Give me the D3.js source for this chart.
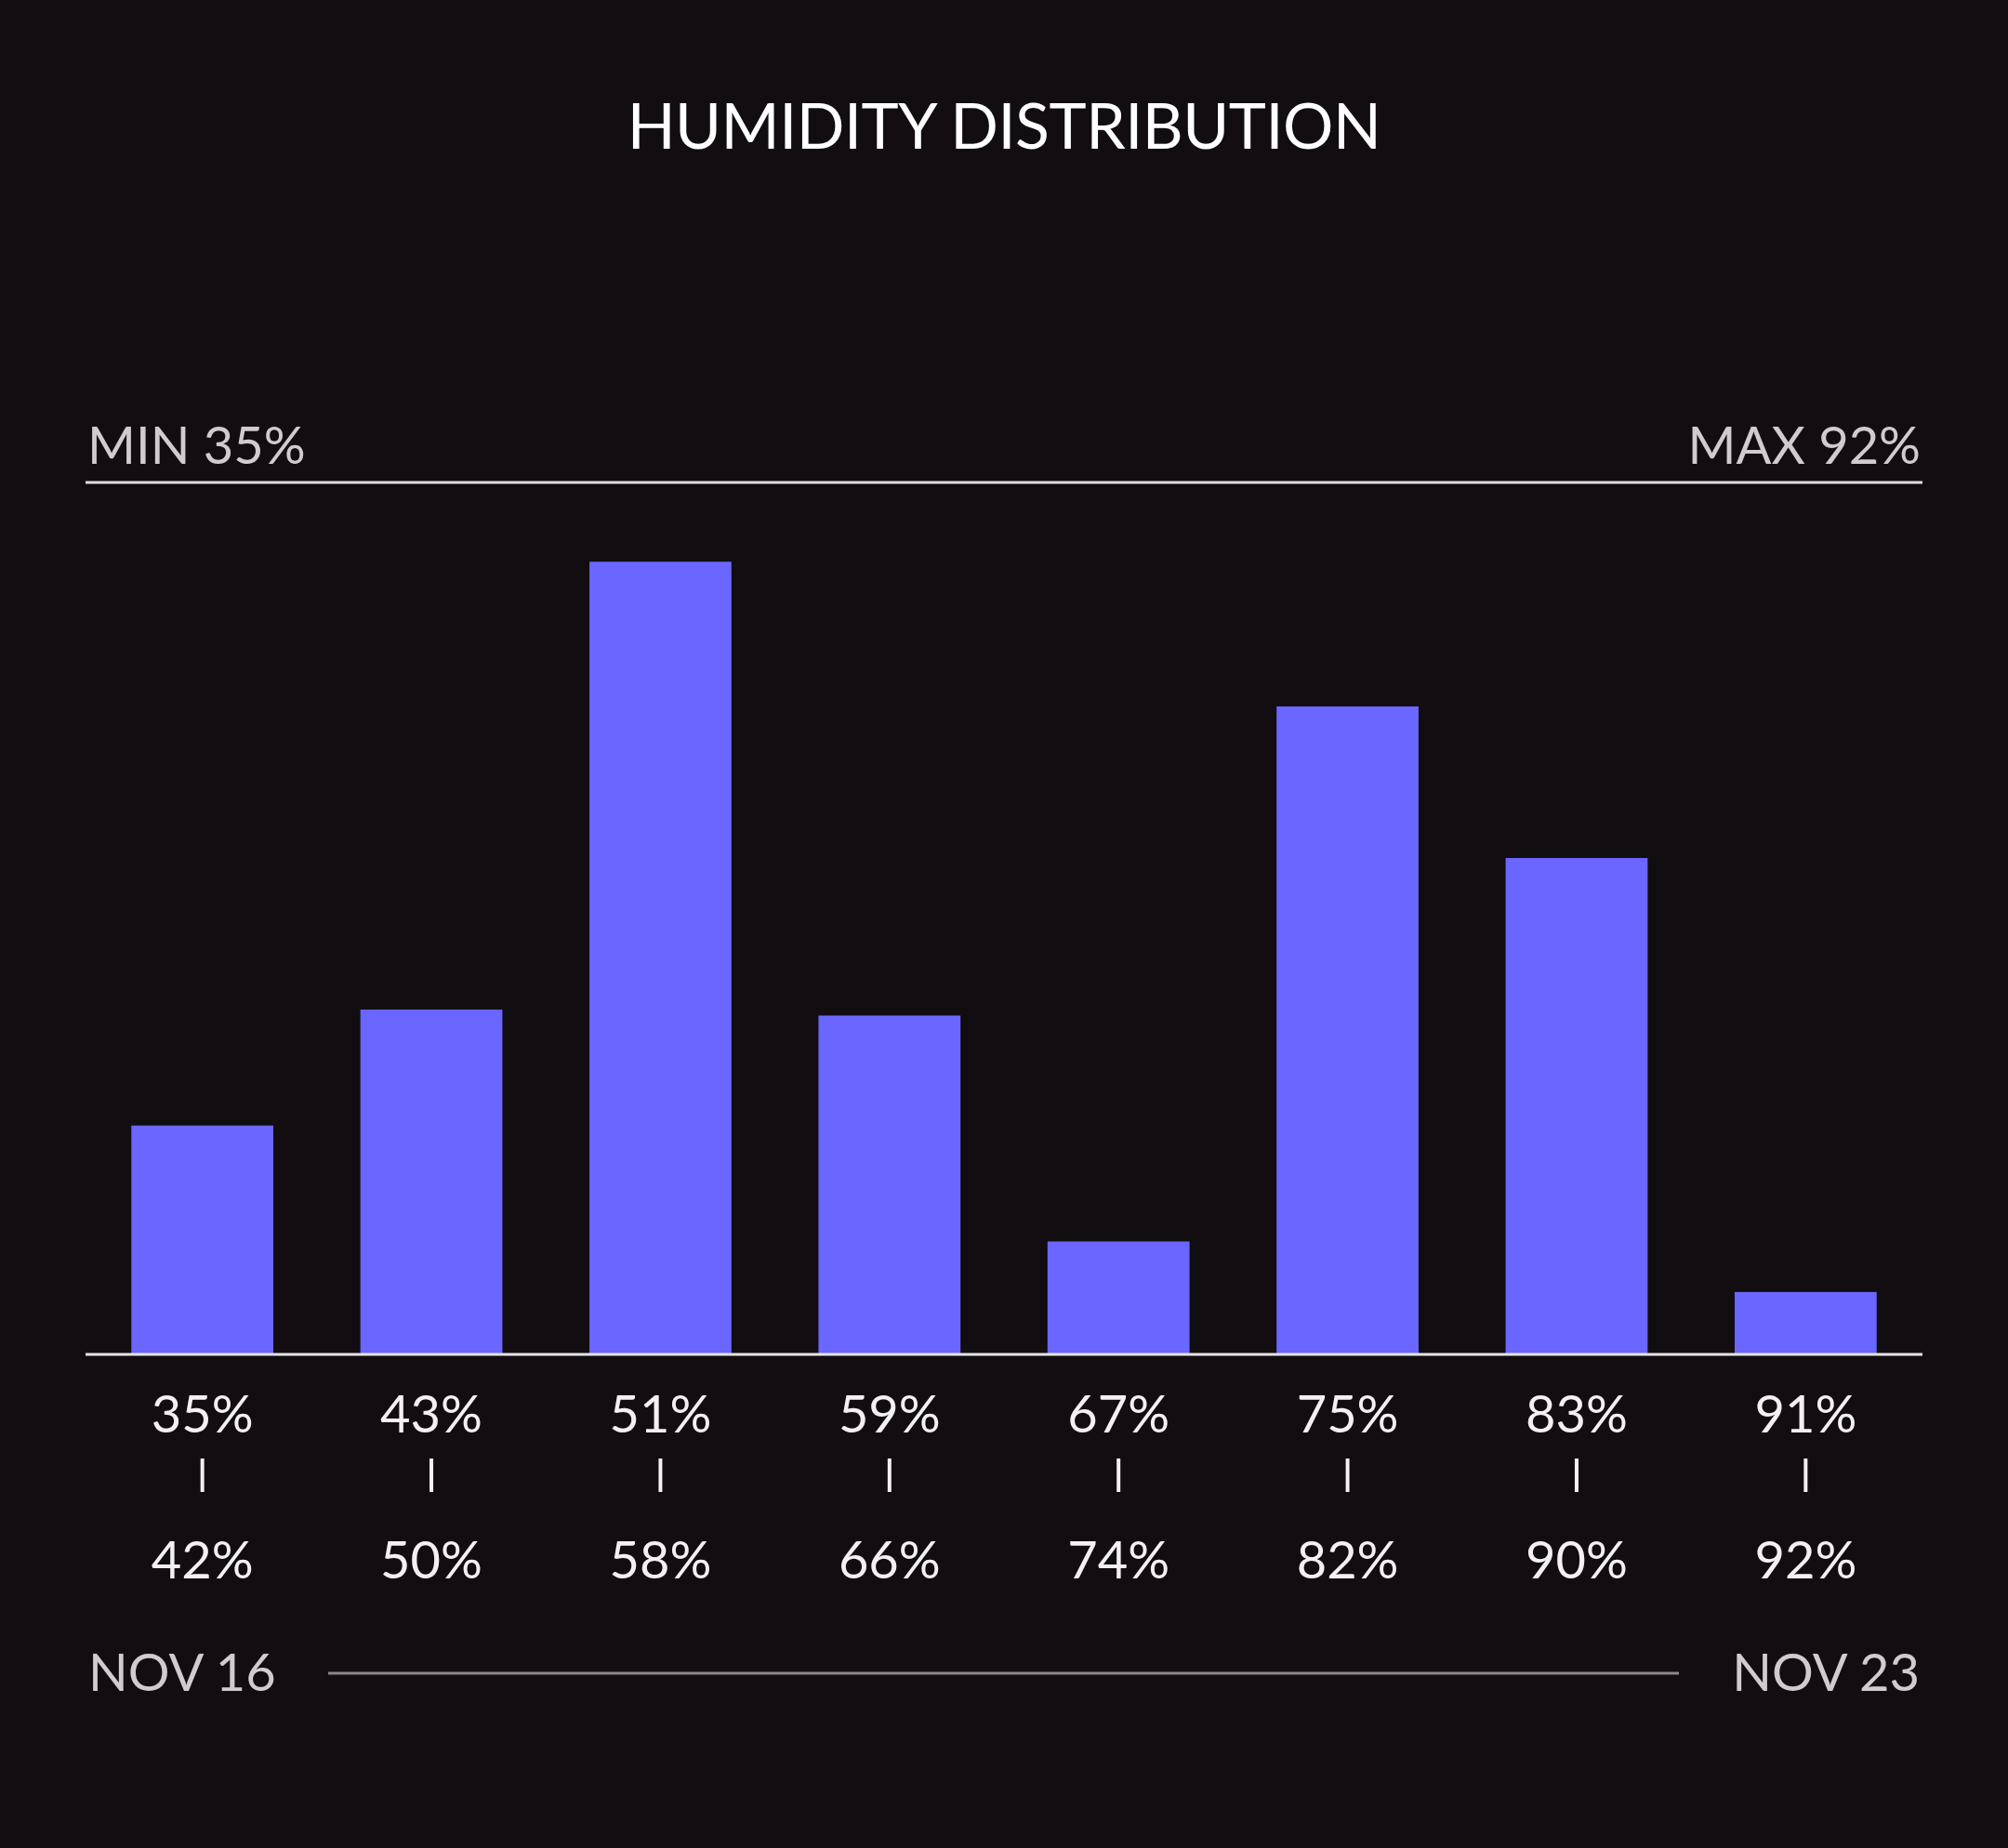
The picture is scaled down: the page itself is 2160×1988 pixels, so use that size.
<!DOCTYPE html>
<html>
<head>
<meta charset="utf-8">
<script src="https://cdn.jsdelivr.net/npm/d3@7"></script>
<style>
  html, body { margin: 0; padding: 0; background: #110d10; }
  svg { display: block; }
  text { font-family: Lato, "Noto Sans", sans-serif; }
</style>
</head>
<body>
<svg id="chart" width="2160" height="1988"></svg>
<script>
// ---- data ----
const title = "HUMIDITY DISTRIBUTION";
const binStarts = ["35%", "43%", "51%", "59%", "67%", "75%", "83%", "91%"];
const binEnds   = ["42%", "50%", "58%", "66%", "74%", "82%", "90%", "92%"];
const counts    = [23.1, 34.8, 80, 34.2, 11.4, 65.4, 50.1, 6.3];
const minLabel = "MIN 35%";
const maxLabel = "MAX 92%";
const startDate = "NOV 16";
const endDate = "NOV 23";

// ---- layout ----
const W = 2160, H = 1988;
const left = 92, right = 2068;
const topLine = 519, baseline = 1457;

const svg = d3.select("#chart");
svg.append("rect").attr("width", W).attr("height", H).attr("fill", "#110d10");

const x = d3.scaleBand()
  .domain(binStarts)
  .range([left, right])
  .paddingInner(0.38)
  .paddingOuter(0.2);

const y = d3.scaleLinear()
  .domain([0, d3.max(counts) * 1.1])
  .range([baseline, topLine]);

// title
svg.append("text")
  .attr("x", W / 2).attr("y", 160)
  .attr("text-anchor", "middle")
  .attr("fill", "#ffffff")
  .attr("font-size", 68)
  .attr("letter-spacing", -0.5)
  .text(title);

// min / max labels
svg.append("text")
  .attr("x", left + 2).attr("y", 499)
  .attr("fill", "#cfcccf")
  .attr("font-size", 56)
  .text(minLabel);
svg.append("text")
  .attr("x", right - 2).attr("y", 499)
  .attr("text-anchor", "end")
  .attr("fill", "#cfcccf")
  .attr("font-size", 56)
  .text(maxLabel);

// top line
svg.append("line")
  .attr("x1", left).attr("x2", right)
  .attr("y1", y.range()[1]).attr("y2", y.range()[1])
  .attr("stroke", "#dedade").attr("stroke-width", 3);

// bars
svg.append("g").selectAll("rect")
  .data(counts)
  .join("rect")
  .attr("x", (d, i) => x(binStarts[i]))
  .attr("width", x.bandwidth())
  .attr("y", d => y(d))
  .attr("height", d => y(0) - y(d))
  .attr("fill", "#6a66ff");

// baseline
svg.append("line")
  .attr("x1", left).attr("x2", right)
  .attr("y1", y(0)).attr("y2", y(0))
  .attr("stroke", "#e6e3e6").attr("stroke-width", 3);

// bin labels
const lab = svg.append("g").selectAll("g")
  .data(binStarts)
  .join("g")
  .attr("transform", d => `translate(${x(d) + x.bandwidth() / 2},0)`);

lab.append("text")
  .attr("y", 1541)
  .attr("text-anchor", "middle")
  .attr("fill", "#f2f0f2")
  .attr("font-size", 56)
  .text(d => d);

lab.append("line")
  .attr("y1", 1569).attr("y2", 1605)
  .attr("stroke", "#f2f0f2").attr("stroke-width", 4);

lab.append("text")
  .attr("y", 1698)
  .attr("text-anchor", "middle")
  .attr("fill", "#f2f0f2")
  .attr("font-size", 56)
  .text((d, i) => binEnds[i]);

// date range
svg.append("text")
  .attr("x", left + 3).attr("y", 1819)
  .attr("fill", "#cfcccf")
  .attr("font-size", 56)
  .text(startDate);
svg.append("text")
  .attr("x", right - 3).attr("y", 1819)
  .attr("text-anchor", "end")
  .attr("fill", "#cfcccf")
  .attr("font-size", 56)
  .text(endDate);
svg.append("line")
  .attr("x1", 353).attr("x2", 1806)
  .attr("y1", 1800).attr("y2", 1800)
  .attr("stroke", "#8a878a").attr("stroke-width", 3);
</script>
</body>
</html>
